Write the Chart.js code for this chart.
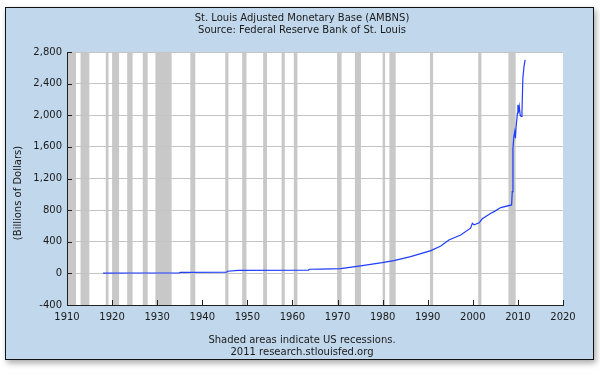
<!DOCTYPE html>
<html>
<head>
<meta charset="utf-8">
<script src="https://cdn.jsdelivr.net/npm/chart.js@4.4.1/dist/chart.umd.min.js"></script>
<style>
  html, body { margin: 0; padding: 0; background: #fff; }
</style>
</head>
<body>
<canvas id="myChart" width="600" height="375"></canvas>
<script>
// AMBNS, billions of dollars
const years = [1918, 1925, 1934.9, 1935.1, 1945.4, 1945.6, 1948, 1963.5, 1963.8, 1966.2,
  1970.7, 1975.1, 1979.9, 1982.5, 1986.2, 1990.7, 1992.9, 1994.7, 1997.3, 1999.5,
  1999.9, 2000.3, 2001.4, 2002.1, 2004.0, 2004.7, 2006.2, 2008.6, 2008.75, 2008.9,
  2009.1, 2009.3, 2009.45, 2009.6, 2009.9, 2010.0, 2010.2, 2010.3, 2010.5, 2010.7,
  2010.9, 2011.1, 2011.35, 2011.6];
const ambns = [4, 5, 7, 12, 15, 27, 38, 42, 52, 55,
  60, 94, 135, 161, 212, 288, 347, 423, 486, 571,
  634, 613, 640, 690, 760, 781, 832, 866, 1034, 1583,
  1730, 1794, 1710, 1857, 2026, 2131, 2068, 2110, 2005, 1984,
  2047, 2470, 2616, 2700];

// US recessions (decimal years)
const recStart = [1910.0, 1913.0, 1918.6, 1920.0, 1923.35, 1926.8, 1929.6, 1937.35, 1945.1, 1948.85,
  1953.5, 1957.6, 1960.3, 1969.9, 1973.85, 1980.0, 1981.5, 1990.5, 2001.2, 2007.9];
const recEnd = [1912.0, 1914.95, 1919.2, 1921.55, 1924.55, 1927.9, 1933.2, 1938.45, 1945.8, 1949.8,
  1954.35, 1958.3, 1961.1, 1970.9, 1975.2, 1980.55, 1982.9, 1991.2, 2001.9, 2009.5];

const xTicks = [1910, 1920, 1930, 1940, 1950, 1960, 1970, 1980, 1990, 2000, 2010, 2020];
const yTicks = [-400, 0, 400, 800, 1200, 1600, 2000, 2400, 2800];

const titleLines = ['St. Louis Adjusted Monetary Base (AMBNS)', 'Source: Federal Reserve Bank of St. Louis'];
const footLines = ['Shaded areas indicate US recessions.', '2011 research.stlouisfed.org'];
const yTitle = '(Billions of Dollars)';

const FONT = '"DejaVu Sans", Verdana, sans-serif';

const frame = {
  id: 'frame',
  beforeDraw(chart) {
    const c = chart.ctx, a = chart.chartArea, x = chart.scales.x;
    c.save();
    c.fillStyle = '#fff';
    c.fillRect(0, 0, chart.width, chart.height);
    // panel with shadow
    c.shadowColor = 'rgba(0,0,0,0.35)';
    c.shadowBlur = 6;
    c.shadowOffsetX = 2;
    c.shadowOffsetY = 3;
    c.fillStyle = '#c1d7eb';
    c.fillRect(5, 7, 589, 353);
    c.shadowColor = 'transparent';
    c.strokeStyle = '#111';
    c.lineWidth = 1;
    c.strokeRect(5.5, 7.5, 588, 352);
    // plot background + recessions
    c.fillStyle = '#fff';
    c.fillRect(a.left, a.top, a.right - a.left, a.bottom - a.top);
    c.fillStyle = '#c8c8c8';
    recStart.forEach((s, i) => {
      const x0 = x.getPixelForValue(s), x1 = x.getPixelForValue(recEnd[i]);
      c.fillRect(x0, a.top, x1 - x0, a.bottom - a.top);
    });
    // texts
    c.fillStyle = '#1a1a1a';
    c.font = '10px ' + FONT;
    c.textAlign = 'center';
    c.textBaseline = 'middle';
    c.fillText(titleLines[0], 302, 18);
    c.fillText(titleLines[1], 302, 30);
    c.fillText(footLines[0], 302, 340);
    c.fillText(footLines[1], 302, 352);
    c.translate(18, 193);
    c.rotate(-Math.PI / 2);
    c.fillText(yTitle, 0, 0);
    c.restore();
  },
  afterDatasetsDraw(chart) {
    // small inward tick marks
    const c = chart.ctx, a = chart.chartArea;
    c.save();
    c.strokeStyle = '#222';
    c.lineWidth = 1;
    c.beginPath();
    xTicks.forEach(v => {
      const px = Math.round(chart.scales.x.getPixelForValue(v)) + 0.5;
      c.moveTo(px, a.bottom);
      c.lineTo(px, a.bottom - 5);
    });
    yTicks.forEach(v => {
      const py = Math.round(chart.scales.y.getPixelForValue(v)) + 0.5;
      c.moveTo(a.left, py);
      c.lineTo(a.left + 5, py);
    });
    c.stroke();
    c.restore();
  }
};

new Chart(document.getElementById('myChart'), {
  type: 'line',
  data: {
    datasets: [{
      data: years.map((yr, i) => ({ x: yr, y: ambns[i] })),
      borderColor: '#1f3dff',
      borderWidth: 1.2,
      pointRadius: 0,
      fill: false,
      tension: 0
    }]
  },
  options: {
    responsive: false,
    animation: false,
    layout: { padding: { top: 52, right: 37, left: 0, bottom: 0 } },
    plugins: {
      legend: { display: false },
      tooltip: { enabled: false }
    },
    scales: {
      x: {
        type: 'linear',
        min: 1910,
        max: 2020,
        afterBuildTicks: s => { s.ticks = xTicks.map(v => ({ value: v })); },
        afterFit: s => { s.height = 70; },
        grid: { drawOnChartArea: false, drawTicks: false },
        border: { color: '#222', width: 1 },
        ticks: {
          padding: 6,
          maxRotation: 0,
          autoSkip: false,
          color: '#1a1a1a',
          font: { family: FONT, size: 10 },
          callback: v => String(v)
        }
      },
      y: {
        min: -400,
        max: 2800,
        afterBuildTicks: s => { s.ticks = yTicks.map(v => ({ value: v })); },
        afterFit: s => { s.width = 67; },
        grid: { color: '#c4c4c4', drawTicks: false },
        border: { color: '#222', width: 1 },
        ticks: {
          padding: 5,
          color: '#1a1a1a',
          font: { family: FONT, size: 10 },
          callback: v => v.toLocaleString('en-US')
        }
      }
    }
  },
  plugins: [frame]
});
</script>
</body>
</html>
